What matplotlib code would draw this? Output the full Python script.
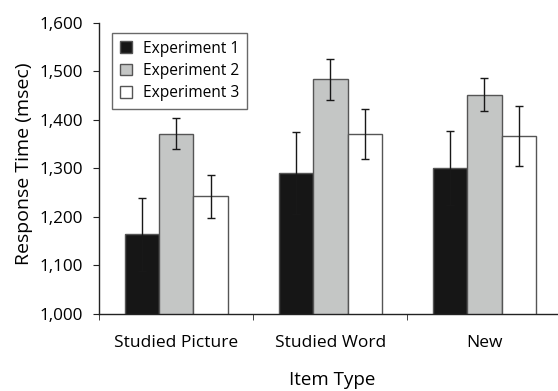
import matplotlib
matplotlib.use("Agg")
import matplotlib.pyplot as plt
import numpy as np

plt.rcParams['font.family'] = ['Open Sans', 'DejaVu Sans']

categories = ["Studied Picture", "Studied Word", "New"]
series = ["Experiment 1", "Experiment 2", "Experiment 3"]
means = {
    "Experiment 1": [1164, 1290, 1301],
    "Experiment 2": [1371, 1483, 1452],
    "Experiment 3": [1242, 1371, 1367],
}
errors = {
    "Experiment 1": [75, 84, 76],
    "Experiment 2": [32, 43, 34],
    "Experiment 3": [45, 51, 62],
}
colors = ["#161616", "#c4c6c5", "#ffffff"]

fig = plt.figure(figsize=(5.58, 3.91), dpi=100)
ax = fig.add_axes([0.178, 0.197, 0.828, 0.745])

x = np.arange(len(categories))
width = 0.223
for i, name in enumerate(series):
    ax.bar(x + (i - 1) * width, means[name], width,
           color=colors[i], edgecolor="#555555", linewidth=1.0,
           yerr=errors[name], capsize=3,
           error_kw=dict(ecolor="#181818", elinewidth=1.0, capthick=1.0),
           label=name, zorder=2)

ax.set_ylim(1000, 1600)
ax.set_xlim(-0.5, 2.5)
ax.set_yticks(np.arange(1000, 1601, 100))
ax.set_yticklabels([f"{v:,}" for v in range(1000, 1601, 100)])
ax.set_xticks(x)
ax.set_xticklabels(categories)
ax.set_xticks([-0.5, 0.5, 1.5], minor=True)
ax.tick_params(axis="x", which="major", length=0, pad=15, labelsize=12.5)
ax.tick_params(axis="x", which="minor", length=4.3, direction="out", color="#222222")
ax.tick_params(axis="y", length=4.3, direction="out", labelsize=12.3, color="#222222", pad=7.5)

for s in ["top", "right"]:
    ax.spines[s].set_visible(False)
for s in ["left", "bottom"]:
    ax.spines[s].set_color("#222222")
    ax.spines[s].set_linewidth(1.0)

ax.set_ylabel("Response Time (msec)", fontsize=14)
ax.yaxis.set_label_coords(-0.144, 0.515)
ax.set_xlabel("Item Type", fontsize=13.5)
ax.xaxis.set_label_coords(0.503, -0.195)

leg = ax.legend(loc="upper left", bbox_to_anchor=(0.028, 0.965), borderaxespad=0,
                fancybox=False, fontsize=11.2, handlelength=0.8, handleheight=0.8,
                handletextpad=0.7, labelspacing=0.4, borderpad=0.5)
leg.get_frame().set_edgecolor("#444444")
leg.get_frame().set_linewidth(1.0)

fig.savefig("out.png", dpi=100)
